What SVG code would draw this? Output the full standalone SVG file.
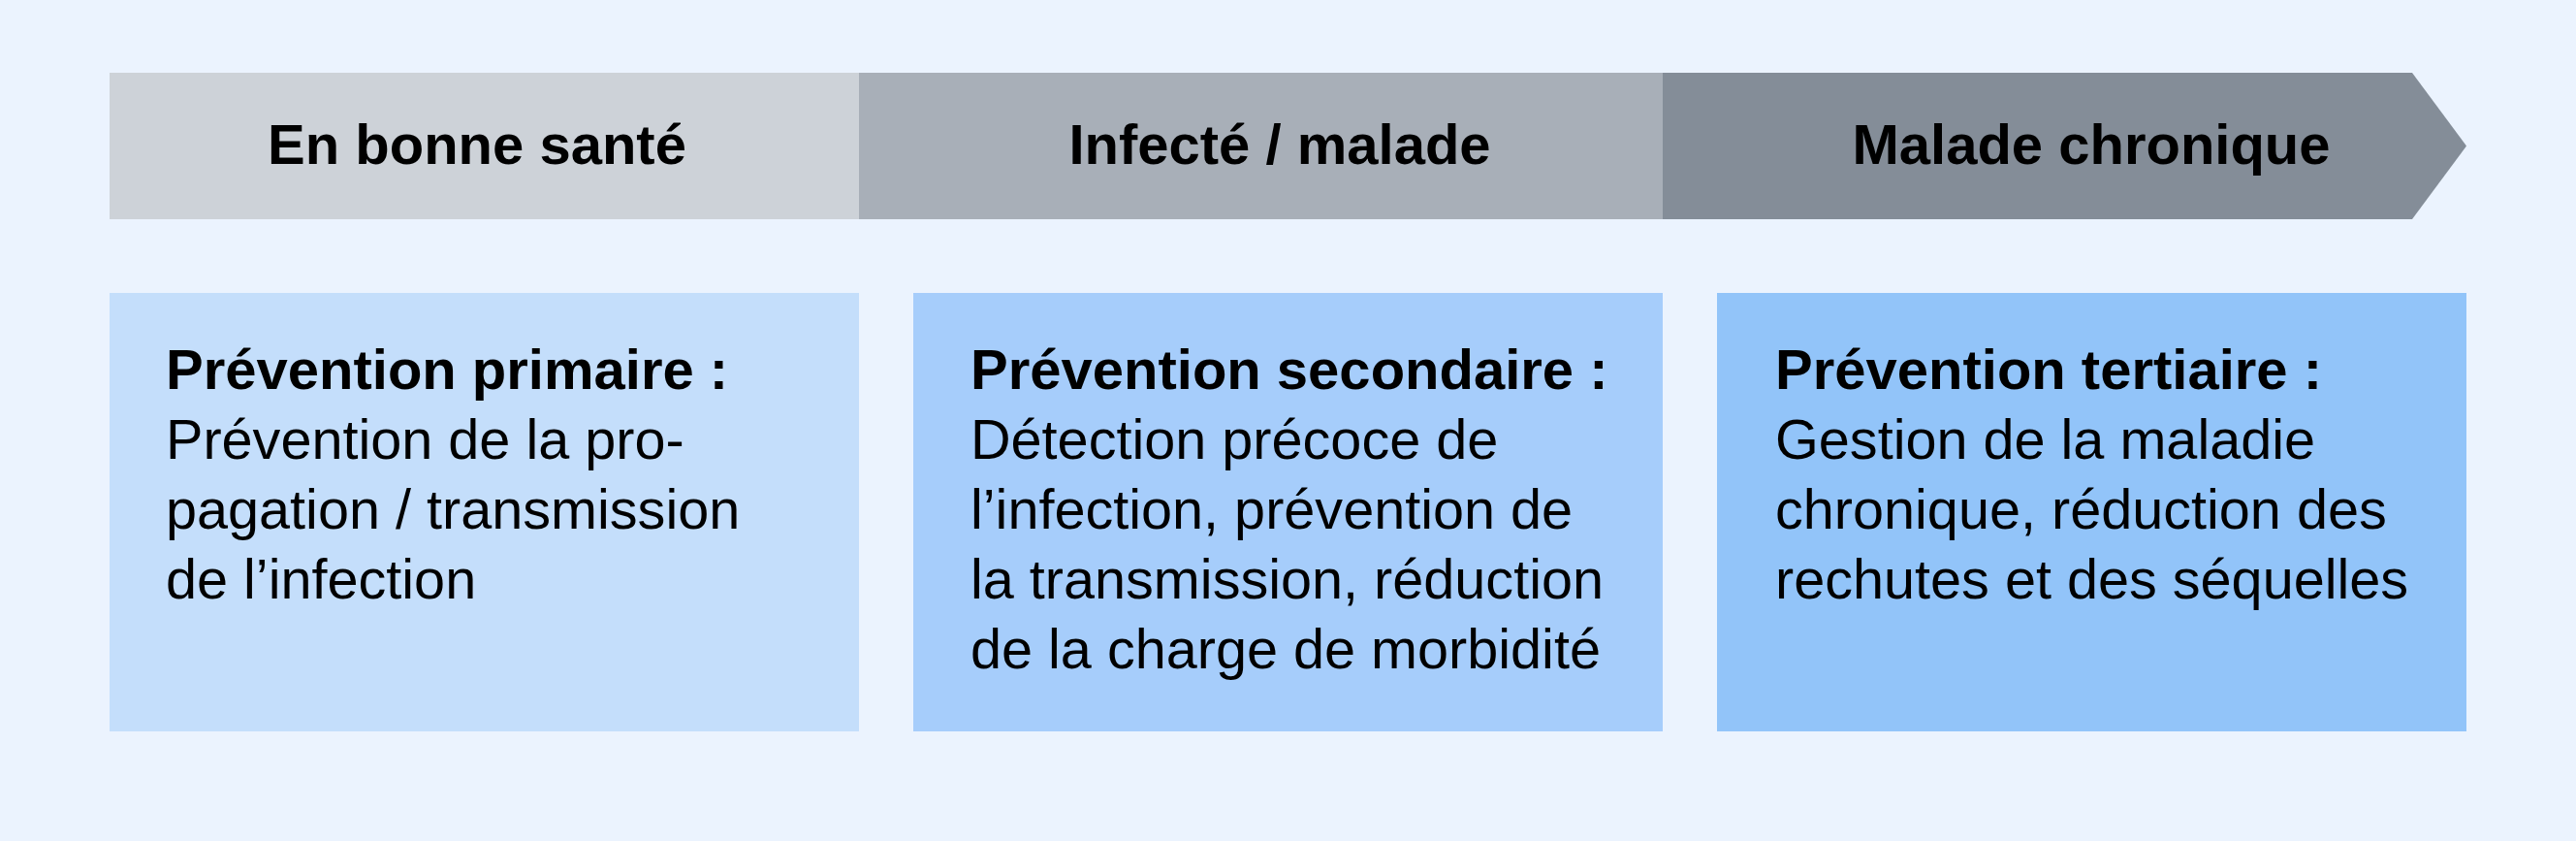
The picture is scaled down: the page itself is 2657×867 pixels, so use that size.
<svg xmlns="http://www.w3.org/2000/svg" width="2657" height="867" viewBox="0 0 2657 867">
<style>
.bg{fill:#EBF3FE}
.stage{font-family:"Liberation Sans",Arial,sans-serif;font-weight:bold;font-size:58px;fill:#000;text-anchor:middle}
.title{font-family:"Liberation Sans",Arial,sans-serif;font-weight:bold;font-size:58px;fill:#000}
.body{font-family:"Liberation Sans",Arial,sans-serif;font-size:57.6px;fill:#000}
</style>
<rect class="bg" x="0" y="0" width="2657" height="867"/>
<g id="stage-healthy">
<rect x="113" y="75" width="773" height="151" fill="#CDD2D8"/>
<text class="stage" x="492" y="169">En bonne santé</text>
</g>
<g id="stage-infected">
<rect x="886" y="75" width="829" height="151" fill="#A8AFB8"/>
<text class="stage" x="1320" y="169">Infecté / malade</text>
</g>
<g id="stage-chronic">
<polygon points="1715,75 2488,75 2544,150.5 2488,226 1715,226" fill="#848D98"/>
<text class="stage" x="2157" y="169">Malade chronique</text>
</g>
<g id="box-primary">
<rect x="113" y="302" width="773" height="452" fill="#C4DEFB"/>
<text class="title" x="171" y="401">Prévention primaire :</text>
<text class="body" x="171" y="473">Prévention de la pro-</text>
<text class="body" x="171" y="545">pagation / transmission</text>
<text class="body" x="171" y="617">de l’infection</text>
</g>
<g id="box-secondary">
<rect x="942" y="302" width="773" height="452" fill="#A6CDFB"/>
<text class="title" x="1001" y="401">Prévention secondaire :</text>
<text class="body" x="1001" y="473">Détection précoce de</text>
<text class="body" x="1001" y="545">l’infection, prévention de</text>
<text class="body" x="1001" y="617">la transmission, réduction</text>
<text class="body" x="1001" y="689">de la charge de morbidité</text>
</g>
<g id="box-tertiary">
<rect x="1771" y="302" width="773" height="452" fill="#92C4F9"/>
<text class="title" x="1831" y="401">Prévention tertiaire :</text>
<text class="body" x="1831" y="473">Gestion de la maladie</text>
<text class="body" x="1831" y="545">chronique, réduction des</text>
<text class="body" x="1831" y="617">rechutes et des séquelles</text>
</g>
<g id="connectors"/>
</svg>
